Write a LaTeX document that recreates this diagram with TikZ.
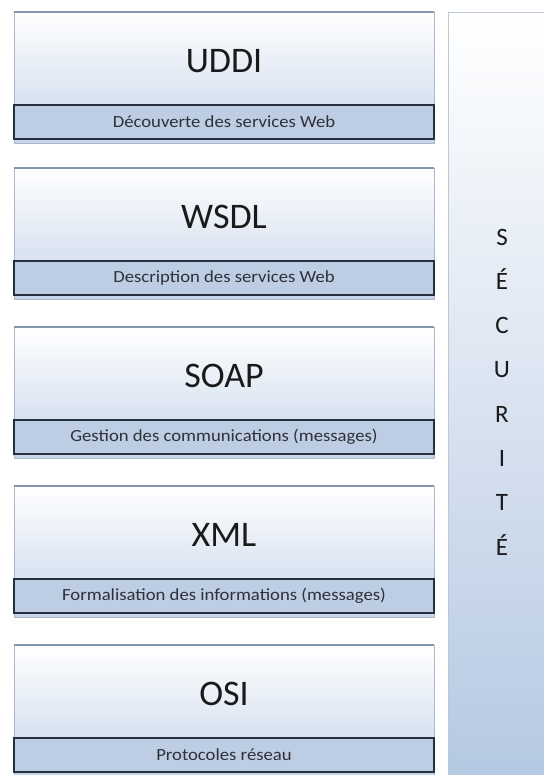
\documentclass[tikz,border=0pt]{standalone}
\usepackage{fontspec}
\setmainfont{Carlito}
\newfontfamily\barfont[FakeStretch=1.1]{Carlito}

\definecolor{boxedge}{HTML}{A9B8CA}
\definecolor{boxtopedge}{HTML}{8496AC}
\definecolor{boxlow}{HTML}{C6D5EA}
\definecolor{barfill}{HTML}{BDCDE4}
\definecolor{baredge}{HTML}{27313E}
\definecolor{panellow}{HTML}{B4C8E2}
\definecolor{paneledge}{HTML}{BCC8D6}
\definecolor{textdark}{HTML}{1A1A1A}
\definecolor{textgrey}{HTML}{2E3238}

\tikzset{
  layerbox/.style={rectangle, minimum width=420pt, minimum height=131pt,
    inner sep=0pt, draw=boxedge, line width=0.8pt,
    top color=white, bottom color=boxlow},
  layerbar/.style={rectangle, minimum width=420pt, minimum height=34pt,
    inner sep=0pt, draw=baredge, line width=1.6pt, fill=barfill,
    text=textgrey, font=\barfont\fontsize{17}{19}\selectfont},
  layertitle/.style={inner sep=0pt, text=textdark,
    font=\fontsize{36}{40}\selectfont},
  secpanel/.style={rectangle, inner sep=0pt, draw=paneledge, line width=1.2pt,
    top color=white, bottom color=panellow, minimum width=110pt,
    minimum height=775pt},
  sectext/.style={inner sep=0pt, align=center, text=textdark,
    font=\fontsize{25}{44.3}\selectfont}
}

\begin{document}
\begin{tikzpicture}[x=1pt,y=-1pt]
\useasboundingbox (0,0) rectangle (543,775);

% security column on the right
\node[secpanel, anchor=north west] (secu) at (448,12) {};
\node[sectext] (securite) at (502,392) {S\\É\\C\\U\\R\\I\\T\\É};

% stacked protocol layers
\foreach \nm/\tp/\ttl/\dsc in {
  uddi/12/UDDI/Découverte des services Web,
  wsdl/168/WSDL/Description des services Web,
  soap/327/SOAP/Gestion des communications (messages),
  xml/486/XML/Formalisation des informations (messages),
  osi/645/OSI/Protocoles réseau}
{
  \node[layerbox, anchor=north] (\nm) at (224,\tp) {};
  \draw[boxtopedge, line width=1.2pt] (\nm.north west) -- (\nm.north east);
  \node[layertitle] (\nm-title) at (224,\tp+49) {\ttl};
  \node[layerbar, anchor=north] (\nm-bar) at (224,\tp+92) {\dsc};
}
\end{tikzpicture}
\end{document}
